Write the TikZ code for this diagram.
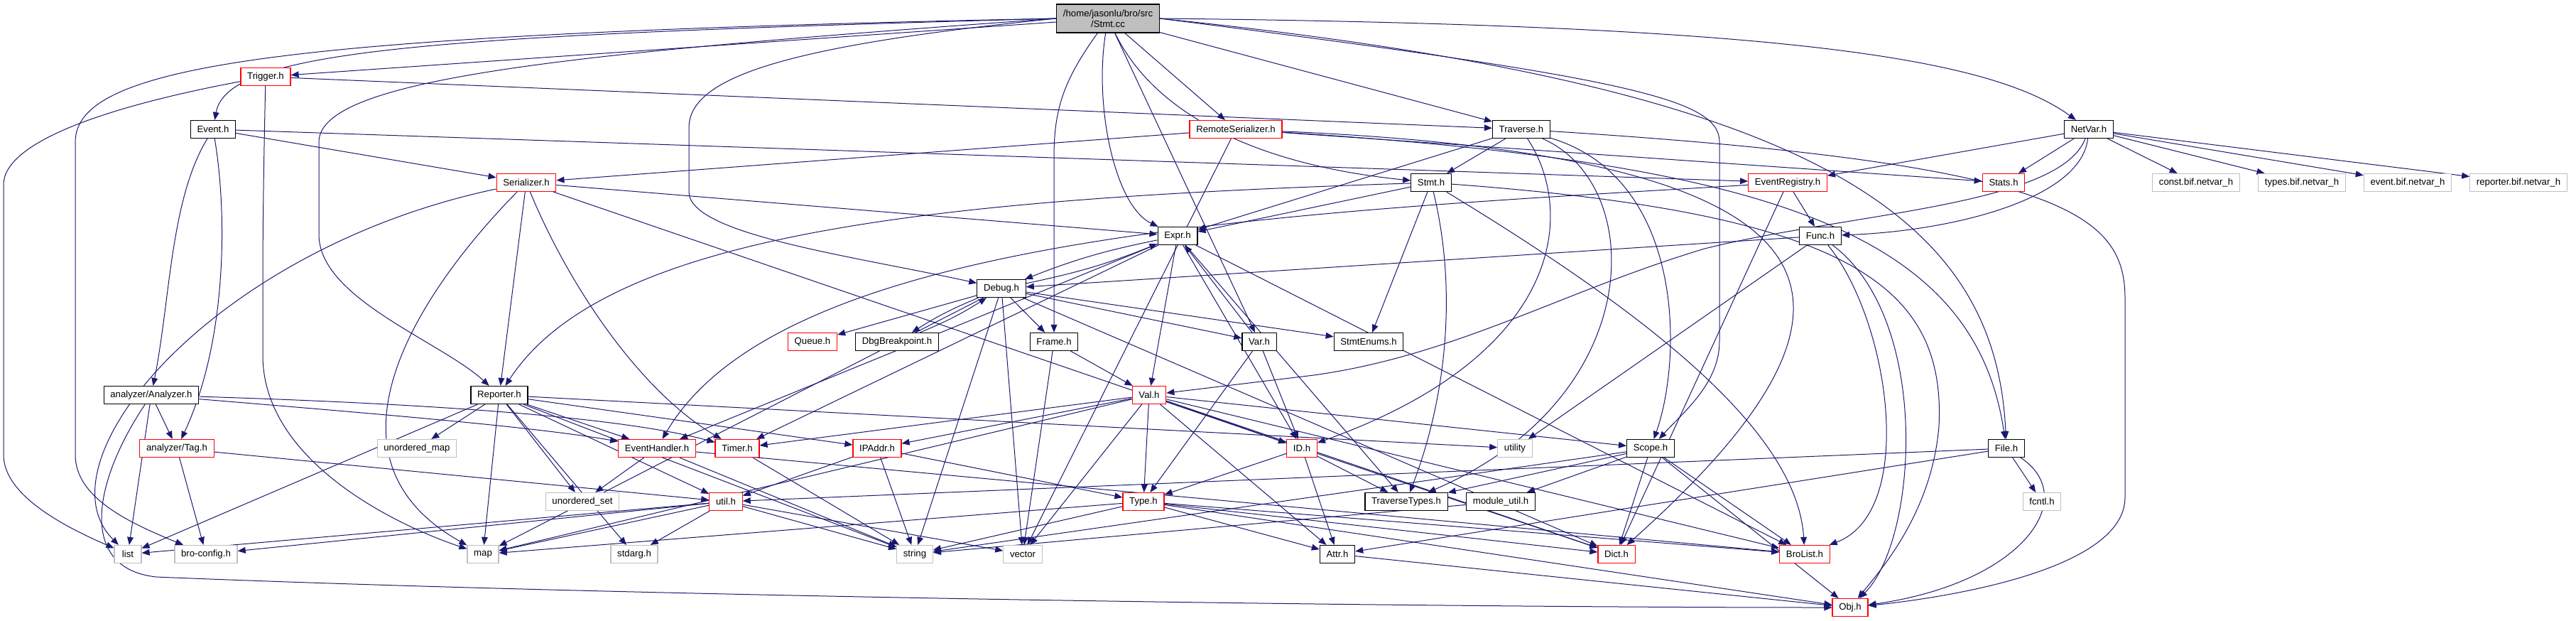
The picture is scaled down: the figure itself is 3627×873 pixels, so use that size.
\documentclass[tikz,border=0pt]{standalone}
\usepackage{fontspec}
\setmainfont{Liberation Sans}
\usetikzlibrary{arrows.meta,backgrounds}
\definecolor{edgeblue}{HTML}{191970}
\definecolor{grey75}{HTML}{BFBFBF}
\begin{document}
\begin{tikzpicture}[x=0.5pt,y=-0.5pt,
    box/.style={draw,rectangle,fill=white,line width=0.6pt,minimum height=12.5pt,minimum width=19pt,inner xsep=4.6pt,inner ysep=0pt,font=\fontsize{6.6}{7.6}\selectfont},
    hdr/.style={box,draw=black},
    trunc/.style={box,draw=red},
    sys/.style={box,draw=grey75},
    dep/.style={draw=edgeblue,line width=0.5pt,-{Triangle[length=5.5pt,width=4.4pt]}}]
    \useasboundingbox (0,0) rectangle (3627,873);
    \node[hdr,fill=grey75,minimum height=20pt,align=center] (stmtcc) at (1560,26) {/home/jasonlu/bro/src\\/Stmt.cc};
    \node[trunc] (trigger) at (374,108) {Trigger.h};
    \node[hdr] (event) at (300,182) {Event.h};
    \node[trunc] (remoteser) at (1740,182) {RemoteSerializer.h};
    \node[hdr] (traverse) at (2142,182) {Traverse.h};
    \node[hdr] (netvar) at (2941,182) {NetVar.h};
    \node[trunc] (serializer) at (741,257) {Serializer.h};
    \node[hdr] (stmth) at (2015,257) {Stmt.h};
    \node[trunc] (evreg) at (2517,257) {EventRegistry.h};
    \node[trunc] (stats) at (2821,257) {Stats.h};
    \node[sys] (constbif) at (3092,257) {const.bif.netvar\_h};
    \node[sys] (typesbif) at (3241,257) {types.bif.netvar\_h};
    \node[sys] (eventbif) at (3390,257) {event.bif.netvar\_h};
    \node[sys] (reporterbif) at (3546,257) {reporter.bif.netvar\_h};
    \node[hdr] (expr) at (1658,332) {Expr.h};
    \node[hdr] (func) at (2563,332) {Func.h};
    \node[hdr] (debug) at (1410,406) {Debug.h};
    \node[trunc] (queue) at (1144,481) {Queue.h};
    \node[hdr] (dbgbp) at (1263,481) {DbgBreakpoint.h};
    \node[hdr] (frame) at (1484,481) {Frame.h};
    \node[hdr] (var) at (1773,481) {Var.h};
    \node[hdr] (stmtenums) at (1927,481) {StmtEnums.h};
    \node[hdr] (analyzer) at (213,556) {analyzer/Analyzer.h};
    \node[hdr] (reporter) at (703,556) {Reporter.h};
    \node[trunc] (val) at (1618,556) {Val.h};
    \node[trunc] (tag) at (249,631) {analyzer/Tag.h};
    \node[sys] (umap) at (587,631) {unordered\_map};
    \node[trunc] (evhandler) at (925,631) {EventHandler.h};
    \node[trunc] (timer) at (1038,631) {Timer.h};
    \node[trunc] (ipaddr) at (1235,631) {IPAddr.h};
    \node[trunc] (id) at (1833,631) {ID.h};
    \node[sys] (utility) at (2133,631) {utility};
    \node[hdr] (scope) at (2324,631) {Scope.h};
    \node[hdr] (file) at (2825,631) {File.h};
    \node[sys] (uset) at (820,706) {unordered\_set};
    \node[trunc] (util) at (1022,706) {util.h};
    \node[trunc] (type) at (1610,706) {Type.h};
    \node[hdr] (travtypes) at (1980,706) {TraverseTypes.h};
    \node[hdr] (modutil) at (2113,706) {module\_util.h};
    \node[sys] (fcntl) at (2875,706) {fcntl.h};
    \node[sys] (list) at (180,780) {list};
    \node[sys] (broconfig) at (290,780) {bro-config.h};
    \node[sys] (map) at (680,780) {map};
    \node[sys] (stdarg) at (893,780) {stdarg.h};
    \node[sys] (string) at (1288,780) {string};
    \node[sys] (vector) at (1440,780) {vector};
    \node[hdr] (attr) at (1883,780) {Attr.h};
    \node[trunc] (dict) at (2276,780) {Dict.h};
    \node[trunc] (brolist) at (2541,780) {BroList.h};
    \node[trunc] (obj) at (2605,855) {Obj.h};
    \begin{scope}[on background layer]
    \draw[dep] (stmtcc) -- (trigger);
    \draw[dep] (stmtcc.west) .. controls (600,50) and (320,70) .. (event);
    \draw[dep] (stmtcc.west) .. controls (400,48) and (106,90) .. (106,200) -- (106,640) .. controls (106,700) and (180,735) .. (broconfig);
    \draw[dep] (stmtcc.west) .. controls (800,75) and (449,110) .. (449,200) -- (449,330) .. controls (449,420) and (620,480) .. (reporter);
    \draw[dep] (stmtcc.west) .. controls (1100,65) and (970,110) .. (970,180) -- (970,270) .. controls (970,330) and (1200,360) .. (debug);
    \draw[dep] (stmtcc) .. controls (1540,150) and (1570,290) .. (expr);
    \draw[dep] (stmtcc) .. controls (1500,110) and (1484,150) .. (1484,220) -- (frame);
    \draw[dep] (stmtcc) -- (var);
    \draw[dep] (stmtcc) .. controls (1620,150) and (1750,230) .. (stmth);
    \draw[dep] (stmtcc) -- (remoteser);
    \draw[dep] (stmtcc) -- (traverse);
    \draw[dep] (stmtcc.east) .. controls (2500,35) and (2800,80) .. (netvar);
    \draw[dep] (stmtcc.east) .. controls (2550,120) and (2810,300) .. (file);
    \draw[dep] (stmtcc.east) .. controls (2300,110) and (2421,140) .. (2421,200) -- (2421,480) .. controls (2421,540) and (2370,580) .. (scope);
    \draw[dep] (trigger) .. controls (150,150) and (5,200) .. (5,260) -- (5,640) .. controls (5,700) and (100,745) .. (list);
    \draw[dep] (trigger) .. controls (372,200) and (370,300) .. (370,400) -- (370,500) .. controls (370,650) and (560,740) .. (map);
    \draw[dep] (trigger) -- (traverse);
    \draw[dep] (event) -- (serializer);
    \draw[dep] (event) -- (evreg);
    \draw[dep] (event) .. controls (240,280) and (240,420) .. (analyzer);
    \draw[dep] (event) .. controls (320,300) and (320,480) .. (tag);
    \draw[dep] (remoteser) -- (serializer);
    \draw[dep] (remoteser) -- (vector);
    \draw[dep] (remoteser) -- (stats);
    \draw[dep] (remoteser) .. controls (2500,230) and (2780,330) .. (file);
    \draw[dep] (remoteser) .. controls (2620,220) and (2680,420) .. (dict);
    \draw[dep] (traverse) -- (stmth);
    \draw[dep] (traverse) -- (expr);
    \draw[dep] (traverse) .. controls (2220,300) and (2200,500) .. (id);
    \draw[dep] (traverse) .. controls (2320,260) and (2320,560) .. (travtypes);
    \draw[dep] (traverse) .. controls (2370,250) and (2370,500) .. (scope);
    \draw[dep] (traverse) .. controls (2900,230) and (2992,300) .. (2992,420) -- (2992,700) .. controls (2992,800) and (2750,840) .. (obj);
    \draw[dep] (netvar) -- (evreg);
    \draw[dep] (netvar) -- (stats);
    \draw[dep] (netvar) .. controls (2930,280) and (2750,325) .. (func);
    \draw[dep] (netvar) .. controls (2900,290) and (2600,300) .. (2400,350) .. controls (2200,410) and (2050,500) .. (1850,528) -- (val);
    \draw[dep] (netvar) -- (constbif);
    \draw[dep] (netvar) -- (typesbif);
    \draw[dep] (netvar) -- (eventbif);
    \draw[dep] (netvar) -- (reporterbif);
    \draw[dep] (serializer) -- (expr);
    \draw[dep] (serializer) -- (id);
    \draw[dep] (serializer) -- (reporter);
    \draw[dep] (serializer) .. controls (600,400) and (430,640) .. (map);
    \draw[dep] (serializer) .. controls (800,400) and (900,550) .. (timer);
    \draw[dep] (serializer) .. controls (300,350) and (50,650) .. (list);
    \draw[dep] (stmth) -- (expr);
    \draw[dep] (stmth) .. controls (1300,280) and (850,330) .. (reporter);
    \draw[dep] (stmth) -- (stmtenums);
    \draw[dep] (stmth) .. controls (2050,400) and (2040,550) .. (travtypes);
    \draw[dep] (stmth) .. controls (2300,430) and (2530,600) .. (brolist);
    \draw[dep] (stmth) .. controls (2600,300) and (2740,400) .. (2730,600) .. controls (2720,720) and (2650,800) .. (obj);
    \draw[dep] (evreg) .. controls (1800,300) and (1100,330) .. (evhandler);
    \draw[dep] (evreg) -- (func);
    \draw[dep] (evreg) -- (dict);
    \draw[dep] (expr) to[bend right=5] (debug);
    \draw[dep] (debug) to[bend right=5] (expr);
    \draw[dep] (expr) -- (val);
    \draw[dep] (expr) -- (id);
    \draw[dep] (expr) -- (evhandler);
    \draw[dep] (expr) -- (timer);
    \draw[dep] (expr) -- (travtypes);
    \draw[dep] (expr) -- (brolist);
    \draw[dep] (debug) -- (queue);
    \draw[dep] (debug) to[bend right=5] (dbgbp);
    \draw[dep] (dbgbp) to[bend right=5] (debug);
    \draw[dep] (debug) -- (frame);
    \draw[dep] (debug) -- (var);
    \draw[dep] (debug) -- (stmtenums);
    \draw[dep] (debug) -- (string);
    \draw[dep] (debug) -- (vector);
    \draw[dep] (debug) -- (map);
    \draw[dep] (debug) -- (dict);
    \draw[dep] (func) -- (debug);
    \draw[dep] (func) -- (utility);
    \draw[dep] (func) .. controls (2660,450) and (2700,720) .. (brolist);
    \draw[dep] (func) .. controls (2720,450) and (2700,760) .. (obj);
    \draw[dep] (frame) -- (val);
    \draw[dep] (frame) -- (vector);
    \draw[dep] (var) -- (expr);
    \draw[dep] (var) -- (id);
    \draw[dep] (var) -- (type);
    \draw[dep] (val) -- (type);
    \draw[dep] (val) -- (ipaddr);
    \draw[dep] (val) -- (id);
    \draw[dep] (val) -- (timer);
    \draw[dep] (val) -- (map);
    \draw[dep] (val) -- (vector);
    \draw[dep] (val) -- (scope);
    \draw[dep] (val) -- (attr);
    \draw[dep] (val) -- (dict);
    \draw[dep] (val) -- (brolist);
    \draw[dep] (analyzer) -- (tag);
    \draw[dep] (analyzer) -- (list);
    \draw[dep] (analyzer) .. controls (500,580) and (750,600) .. (evhandler);
    \draw[dep] (analyzer) .. controls (500,565) and (850,580) .. (timer);
    \draw[dep] (analyzer) .. controls (130,680) and (110,800) .. (220,812) .. controls (900,840) and (2000,855) .. (obj);
    \draw[dep] (reporter) -- (umap);
    \draw[dep] (reporter) -- (list);
    \draw[dep] (reporter) -- (evhandler);
    \draw[dep] (reporter) -- (ipaddr);
    \draw[dep] (reporter) -- (util);
    \draw[dep] (reporter) -- (uset);
    \draw[dep] (reporter) -- (map);
    \draw[dep] (reporter) -- (stdarg);
    \draw[dep] (reporter) -- (string);
    \draw[dep] (reporter) -- (utility);
    \draw[dep] (tag) -- (broconfig);
    \draw[dep] (tag) -- (util);
    \draw[dep] (evhandler) -- (uset);
    \draw[dep] (evhandler) -- (string);
    \draw[dep] (evhandler) -- (brolist);
    \draw[dep] (timer) -- (string);
    \draw[dep] (ipaddr) -- (string);
    \draw[dep] (ipaddr) -- (type);
    \draw[dep] (ipaddr) -- (util);
    \draw[dep] (id) -- (type);
    \draw[dep] (id) -- (attr);
    \draw[dep] (id) -- (travtypes);
    \draw[dep] (id) -- (dict);
    \draw[dep] (scope) -- (travtypes);
    \draw[dep] (scope) -- (modutil);
    \draw[dep] (scope) -- (string);
    \draw[dep] (scope) -- (dict);
    \draw[dep] (scope) -- (brolist);
    \draw[dep] (scope) -- (obj);
    \draw[dep] (file) -- (fcntl);
    \draw[dep] (file) -- (util);
    \draw[dep] (file) -- (attr);
    \draw[dep] (file) .. controls (2930,700) and (2850,820) .. (obj);
    \draw[dep] (util) -- (list);
    \draw[dep] (util) -- (broconfig);
    \draw[dep] (util) -- (map);
    \draw[dep] (util) -- (stdarg);
    \draw[dep] (util) -- (string);
    \draw[dep] (util) -- (vector);
    \draw[dep] (type) -- (string);
    \draw[dep] (type) -- (map);
    \draw[dep] (type) -- (attr);
    \draw[dep] (type) -- (dict);
    \draw[dep] (type) -- (brolist);
    \draw[dep] (type) -- (obj);
    \draw[dep] (modutil) -- (string);
    \draw[dep] (attr) -- (obj);
    \end{scope}
\end{tikzpicture}
\end{document}
